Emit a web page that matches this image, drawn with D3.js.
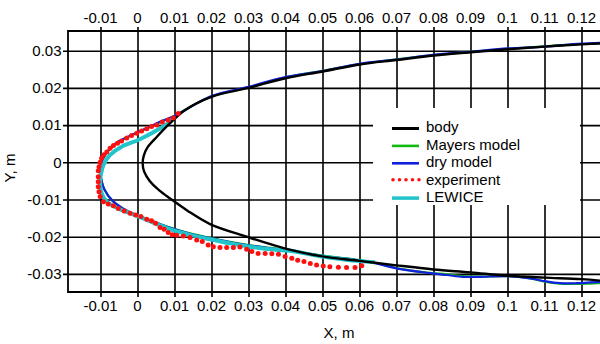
<!DOCTYPE html>
<html>
<head>
<meta charset="utf-8">
<script src="https://cdn.jsdelivr.net/npm/d3@7"></script>
<style>
  html, body { margin: 0; padding: 0; background: #fff; }
  svg { display: block; }
  text { font-family: "Liberation Sans", Arial, sans-serif; fill: #000; }
</style>
</head>
<body>
<svg id="chart" width="600" height="344"></svg>
<script>
// ---------------- DATA ----------------
const xTicks = [-0.01, 0, 0.01, 0.02, 0.03, 0.04, 0.05, 0.06, 0.07, 0.08, 0.09, 0.1, 0.11, 0.12];
const xTickLabels = ["-0.01", "0", "0.01", "0.02", "0.03", "0.04", "0.05", "0.06", "0.07", "0.08", "0.09", "0.1", "0.11", "0.12"];
const yTicks = [0.03, 0.02, 0.01, 0, -0.01, -0.02, -0.03];
const yTickLabels = ["0.03", "0.02", "0.01", "0", "-0.01", "-0.02", "-0.03"];
const xTitle = "X, m";
const yTitle = "Y, m";
const seriesNames = ["body", "Mayers model", "dry model", "experiment", "LEWICE"];

// body contour (x, y) in metres, upper trailing side -> nose -> lower trailing side
const bodyX = [0.127, 0.12, 0.11, 0.1, 0.09, 0.08, 0.07, 0.06, 0.05, 0.04, 0.03, 0.02, 0.0128, 0.0088, 0.0050, 0.0027, 0.0017, 0.0014,
               0.0018, 0.0033, 0.0058, 0.0092, 0.0135, 0.0196, 0.0295, 0.04, 0.05, 0.06, 0.07, 0.08, 0.09, 0.1, 0.11, 0.12, 0.127];
const bodyY = [0.0320, 0.0317, 0.0311, 0.0304, 0.0296, 0.0287, 0.0275, 0.0263, 0.0244, 0.0226, 0.0200, 0.0176, 0.0140, 0.0105, 0.0066, 0.0040, 0.0018, -0.0003,
               -0.0025, -0.0050, -0.0075, -0.0100, -0.0130, -0.0166, -0.0200, -0.0232, -0.0253, -0.0265, -0.0277, -0.0288, -0.0296, -0.0305, -0.0310, -0.0314, -0.0320];

// Mayers model (green)
const mayersX = [0.127, 0.12, 0.11, 0.1, 0.09, 0.08, 0.07, 0.06, 0.05, 0.04, 0.03, 0.02, 0.0128, 0.0097, 0.007, 0.004, 0.001, -0.002, -0.005, -0.0075, -0.0092, -0.0101,
                 -0.0099, -0.0089, -0.0068, -0.0040, 0.0, 0.004, 0.009, 0.0142, 0.0196, 0.025, 0.0304, 0.0358, 0.0412, 0.0502, 0.0592, 0.0642, 0.0682, 0.0728, 0.079, 0.0836, 0.088, 0.0926, 0.0998, 0.1061, 0.1097, 0.1142, 0.1187, 0.1223, 0.127];
const mayersY = [0.0321, 0.0318, 0.0312, 0.0305, 0.0297, 0.0288, 0.0277, 0.0264, 0.0246, 0.0228, 0.0201, 0.0177, 0.0141, 0.0123, 0.0112, 0.0098, 0.0085, 0.0071, 0.0055, 0.0035, 0.0012, -0.0015,
                 -0.0040, -0.0074, -0.0103, -0.0124, -0.0143, -0.0158, -0.0176, -0.0191, -0.0203, -0.0214, -0.0223, -0.0230, -0.0237, -0.0251, -0.0262, -0.0270, -0.0280, -0.0289, -0.0297, -0.0301, -0.0306, -0.0307, -0.0306, -0.0312, -0.0320, -0.0326, -0.0327, -0.0326, -0.0324];

// dry model (blue)
const dryX = [0.127, 0.12, 0.11, 0.1, 0.09, 0.08, 0.07, 0.06, 0.05, 0.04, 0.03, 0.02, 0.0128, 0.0097, 0.0065, 0.0035, 0.0005, -0.0025, -0.0055, -0.0078, -0.0094, -0.0101,
              -0.0099, -0.0089, -0.0068, -0.0040, 0.0, 0.004, 0.009, 0.0142, 0.0196, 0.025, 0.0304, 0.0358, 0.0412, 0.0502, 0.0592, 0.0642, 0.0682, 0.0728, 0.079, 0.0836, 0.088, 0.0926, 0.0998, 0.1061, 0.1097, 0.1142, 0.1187, 0.1223, 0.127];
const dryY = [0.0322, 0.0319, 0.0311, 0.0306, 0.0297, 0.0289, 0.0276, 0.0265, 0.0245, 0.0229, 0.0203, 0.0178, 0.0140, 0.0123, 0.0111, 0.0096, 0.0083, 0.0069, 0.0054, 0.0033, 0.0009, -0.0015,
              -0.0040, -0.0074, -0.0103, -0.0124, -0.0143, -0.0158, -0.0177, -0.0192, -0.0204, -0.0215, -0.0224, -0.0231, -0.0238, -0.0252, -0.0263, -0.0271, -0.0281, -0.0290, -0.0298, -0.0303, -0.0308, -0.0308, -0.0306, -0.0312, -0.0319, -0.0325, -0.0325, -0.0323, -0.0321];

// LEWICE (cyan)
const lewiceX = [0.0095, 0.0088, 0.0038, 0.0002, -0.0043, -0.0074, -0.0092, -0.0099, -0.0101, -0.0097, -0.0083, -0.0052, -0.0007, 0.0038, 0.0083, 0.0142, 0.0196, 0.025, 0.0304, 0.0358, 0.0412, 0.0502, 0.0592, 0.0642];
const lewiceY = [0.0118, 0.0109, 0.0078, 0.0060, 0.0042, 0.0020, -0.0007, -0.0034, -0.0048, -0.0083, -0.0106, -0.0124, -0.0142, -0.0160, -0.0178, -0.0195, -0.0207, -0.0218, -0.0227, -0.0234, -0.0238, -0.0254, -0.0265, -0.0269];

// experiment (red dots)
const expX = [0.0110, 0.0097, 0.0083, 0.0067, 0.0052, 0.0038, 0.0025, 0.0011, -0.0002, -0.0016, -0.0029, -0.0043, -0.0054, -0.0065, -0.0074, -0.0083, -0.0091, -0.0097, -0.0101, -0.0104, -0.0106,
              -0.0106, -0.0106, -0.0106, -0.0104, -0.0101, -0.0092, -0.0079, -0.0065, -0.0052, -0.0036, -0.0020, -0.0005, 0.0009, 0.0025, 0.0038, 0.0049, 0.0061, 0.0072, 0.0083,
              0.0094, 0.0106, 0.0124, 0.0142, 0.0160, 0.0175, 0.0191, 0.0205, 0.0223, 0.0241, 0.0259, 0.0277, 0.0295, 0.0309, 0.0326, 0.0345, 0.0363, 0.0381, 0.0399, 0.0417,
              0.0433, 0.0450, 0.0467, 0.0484, 0.0502, 0.0520, 0.0543, 0.0565, 0.0588, 0.0606];
const expY = [0.0131, 0.0120, 0.0114, 0.0108, 0.0100, 0.0096, 0.0090, 0.0084, 0.0078, 0.0072, 0.0065, 0.0057, 0.0051, 0.0045, 0.0038, 0.0028, 0.0020, 0.0011, 0.0000, -0.0012, -0.0023,
              -0.0039, -0.0052, -0.0066, -0.0079, -0.0092, -0.0106, -0.0112, -0.0117, -0.0124, -0.0131, -0.0137, -0.0142, -0.0146, -0.0153, -0.0157, -0.0164, -0.0175, -0.0180, -0.0189,
              -0.0195, -0.0196, -0.0198, -0.0202, -0.0209, -0.0213, -0.0222, -0.0227, -0.0229, -0.0229, -0.0229, -0.0228, -0.0234, -0.0240, -0.0245, -0.0245, -0.0246, -0.0247, -0.0253, -0.0258,
              -0.0263, -0.0267, -0.0272, -0.0276, -0.0279, -0.0281, -0.0282, -0.0283, -0.0283, -0.0278];

// ---------------- LAYOUT ----------------
const frame = { left: 68, top: 31, right: 604, bottom: 292 };
const colors = { body: "#000000", mayers: "#11bb11", dry: "#1020dd", exp: "#ff1010", lewice: "#22c4cc" };

const svg = d3.select("#chart");

const x = d3.scaleLinear().domain([-0.01, 0.12]).range([100.5, 581.5]);
const y = d3.scaleLinear().domain([-0.03, 0.03]).range([273.9, 50.7]);

// grid (as axes with full-length ticks)
const gridColor = "#000";
svg.append("g")
  .attr("transform", `translate(0,${frame.bottom + 5})`)
  .call(d3.axisBottom(x).tickValues(xTicks).tickSize(-(frame.bottom + 5 - (frame.top - 4))).tickFormat(""))
  .call(g => g.select(".domain").remove())
  .call(g => g.selectAll("line").attr("stroke", gridColor).attr("stroke-width", 1.6));

svg.append("g")
  .attr("transform", `translate(${frame.left - 5},0)`)
  .call(d3.axisLeft(y).tickValues(yTicks).tickSize(-(frame.right - frame.left + 5)).tickFormat(""))
  .call(g => g.select(".domain").remove())
  .call(g => g.selectAll("line").attr("stroke", gridColor).attr("stroke-width", 1.6));

// frame lines (left, top, bottom)
svg.append("path")
  .attr("d", `M${frame.right},${frame.top}L${frame.left},${frame.top}L${frame.left},${frame.bottom}L${frame.right},${frame.bottom}`)
  .attr("fill", "none").attr("stroke", "#000").attr("stroke-width", 1.8);

// tick labels
const fs = 15;
svg.append("g").selectAll("text").data(xTicks).join("text")
  .attr("x", d => x(d)).attr("y", 22.5)
  .attr("text-anchor", "middle").attr("font-size", fs)
  .text((d, i) => xTickLabels[i]);
svg.append("g").selectAll("text").data(xTicks).join("text")
  .attr("x", d => x(d)).attr("y", 310.5)
  .attr("text-anchor", "middle").attr("font-size", fs)
  .text((d, i) => xTickLabels[i]);
svg.append("g").selectAll("text").data(yTicks).join("text")
  .attr("x", 61.5).attr("y", d => y(d) + 5.3)
  .attr("text-anchor", "end").attr("font-size", fs)
  .text((d, i) => yTickLabels[i]);

// axis titles
svg.append("text").attr("x", 339).attr("y", 338).attr("text-anchor", "middle").attr("font-size", fs).text(xTitle);
svg.append("text").attr("transform", "translate(15,168) rotate(-90)").attr("text-anchor", "middle").attr("font-size", fs).text(yTitle);

// curves
svg.append("clipPath").attr("id", "clip").append("rect")
  .attr("x", frame.left).attr("y", frame.top).attr("width", frame.right - frame.left).attr("height", frame.bottom - frame.top);
const plot = svg.append("g").attr("clip-path", "url(#clip)");

const line = d3.line().x(d => x(d[0])).y(d => y(d[1])).curve(d3.curveCatmullRom.alpha(0.5));
const zip = (a, b) => a.map((v, i) => [v, b[i]]);

plot.append("path").datum(zip(mayersX, mayersY)).attr("d", line)
  .attr("fill", "none").attr("stroke", colors.mayers).attr("stroke-width", 2.2);
plot.append("path").datum(zip(dryX, dryY)).attr("d", line)
  .attr("fill", "none").attr("stroke", colors.dry).attr("stroke-width", 2.2);
plot.append("path").datum(zip(lewiceX, lewiceY)).attr("d", line)
  .attr("fill", "none").attr("stroke", colors.lewice).attr("stroke-width", 4).attr("stroke-linecap", "butt");
plot.append("path").datum(zip(bodyX, bodyY)).attr("d", line)
  .attr("fill", "none").attr("stroke", colors.body).attr("stroke-width", 2.4);
plot.append("g").selectAll("circle").data(zip(expX, expY)).join("circle")
  .attr("cx", d => x(d[0])).attr("cy", d => y(d[1])).attr("r", 2.5).attr("fill", colors.exp);

// legend
const leg = svg.append("g");
leg.append("rect").attr("x", 373).attr("y", 108).attr("width", 207).attr("height", 97).attr("fill", "#fff");
const legStyles = [
  { c: colors.body, w: 3, dots: false },
  { c: colors.mayers, w: 2.6, dots: false },
  { c: colors.dry, w: 2.6, dots: false },
  { c: colors.exp, w: 0, dots: true },
  { c: colors.lewice, w: 3.5, dots: false }
];
seriesNames.forEach((name, i) => {
  const cy = 127 + i * 17.4;
  const st = legStyles[i];
  if (st.dots) {
    leg.append("g").selectAll("circle").data(d3.range(5)).join("circle")
      .attr("cx", k => 393 + k * 6.5).attr("cy", cy + 0.5).attr("r", 1.8).attr("fill", st.c);
  } else {
    leg.append("line").attr("x1", 392).attr("x2", 419).attr("y1", cy + 1.5).attr("y2", cy + 1.5)
      .attr("stroke", st.c).attr("stroke-width", st.w);
  }
  leg.append("text").attr("x", 426).attr("y", cy + 5.3).attr("font-size", fs).text(name);
});
</script>
</body>
</html>
